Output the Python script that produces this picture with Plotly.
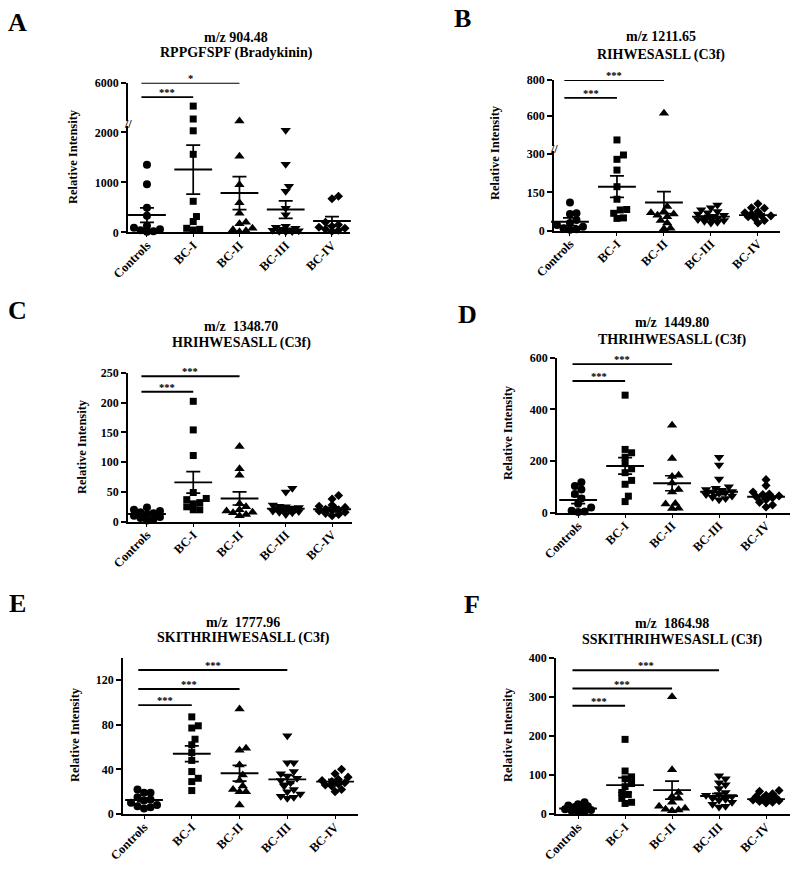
import numpy as np
import plotly.graph_objects as go

W, H = 800, 869
FONT = "Liberation Serif"

categories = ["Controls", "BC-I", "BC-II", "BC-III", "BC-IV"]

# ---------------- data ----------------
A_title = ["m/z 904.48", "RPPGFSPF (Bradykinin)"]
A_values = [
    [1350, 960, 490, 330, 130, 90, 60, 40, 20, 10],
    [3650, 2350, 2030, 1560, 620, 315, 215, 80, 60, 45],
    [2160, 1520, 950, 590, 380, 200, 170, 80, 50, 30, 10],
    [2040, 1360, 920, 820, 480, 350, 120, 100, 80, 60, 50, 40, 30, 20, 15, 10],
    [720, 670, 200, 150, 120, 100, 80, 60, 40, 20],
]
A_means = [345, 1255, 785, 455, 225]
A_sems = [145, 490, 330, 175, 90]
A_sig = [(1, 4550, "***"), (2, 6000, "*")]

B_title = ["m/z 1211.65", "RIHWESASLL (C3f)"]
B_values = [
    [110, 68, 65, 42, 30, 22, 15, 10, 6, 4],
    [464, 296, 279, 237, 172, 123, 83, 81, 68, 50, 48],
    [613, 95, 75, 70, 65, 60, 55, 40, 30, 10, 8],
    [100, 90, 82, 75, 70, 65, 60, 56, 52, 50, 47, 44, 40, 37, 33, 30],
    [105, 90, 88, 75, 70, 65, 60, 58, 55, 50, 40, 30],
]
B_means = [35, 172, 110, 55, 61]
B_sems = [15, 42, 43, 5, 5]
B_sig = [(1, 700, "***"), (2, 800, "***")]

C_title = ["m/z\u00a0 1348.70", "HRIHWESASLL (C3f)"]
C_values = [
    [24, 20, 18, 16, 14, 12, 10, 8, 6, 4, 2],
    [202, 154, 111, 49, 39, 37, 32, 30, 25, 20, 20],
    [126, 89, 78, 30, 25, 20, 18, 16, 15, 12, 10],
    [56, 50, 28, 26, 25, 24, 23, 22, 21, 20, 20, 19, 18, 17, 16, 15, 12],
    [44, 38, 28, 26, 24, 22, 21, 20, 19, 18, 16, 14, 12, 10],
]
C_means = [13, 66, 39, 22, 21]
C_sems = [2.5, 18, 11, 3, 3]
C_sig = [(1, 218, "***"), (2, 244, "***")]

D_title = ["m/z\u00a0 1449.80", "THRIHWESASLL (C3f)"]
D_values = [
    [118, 103, 90, 72, 55, 35, 20, 8, 5, 3],
    [455, 245, 232, 215, 190, 170, 155, 125, 110, 64, 43],
    [339, 210, 145, 140, 115, 90, 80, 36, 34, 17, 16],
    [215, 185, 130, 100, 95, 90, 85, 82, 80, 78, 75, 70, 65, 60, 55, 50],
    [128, 105, 80, 72, 70, 65, 62, 58, 50, 40, 30, 22],
]
D_means = [49, 181, 114, 81, 62]
D_sems = [14, 32, 29, 11, 9]
D_sig = [(1, 510, "***"), (2, 575, "***")]

E_title = ["m/z\u00a0 1777.96", "SKITHRIHWESASLL (C3f)"]
E_values = [
    [22, 19, 19, 15, 13, 12, 10, 8, 7, 6, 5],
    [87, 79, 77, 67, 62, 55, 48, 38, 32, 29, 21],
    [94, 59, 57, 44, 35, 30, 25, 22, 20, 20, 8],
    [70, 46, 46, 38, 36, 34, 32, 30, 28, 25, 22, 20, 18, 16, 15, 14],
    [40, 36, 33, 31, 30, 29, 28, 27, 26, 25, 22, 20],
]
E_means = [12.5, 54, 36.5, 31, 29]
E_sems = [1.5, 7, 7, 3.5, 2]
E_sig = [(1, 97.5, "***"), (2, 112, "***"), (3, 129, "***")]

F_title = ["m/z\u00a0 1864.98", "SSKITHRIHWESASLL (C3f)"]
F_values = [
    [30, 25, 22, 20, 18, 15, 12, 10, 8, 6, 5],
    [191, 110, 95, 90, 78, 70, 55, 50, 40, 30, 27],
    [300, 113, 55, 45, 40, 30, 20, 15, 12, 10, 8],
    [98, 90, 80, 75, 65, 55, 50, 48, 45, 40, 38, 35, 30, 25, 20, 18],
    [60, 58, 52, 48, 45, 42, 40, 38, 36, 34, 32, 30, 28],
]
F_means = [14, 74, 61, 46, 38]
F_sems = [2.5, 19, 23, 6, 3]
F_sig = [(1, 277, "***"), (2, 321, "***"), (3, 368, "***")]

# ---------------- layout geometry (pixels) ----------------
panels = [
    dict(letter="A", title=A_title, values=A_values, means=A_means, sems=A_sems, sig=A_sig,
         x0=128, x1=350, xr=[-0.41, 4.39],
         segs=[dict(bottom=232.3, top=126.3, rng=[0, 2120], ticks=[0, 1000, 2000]),
               dict(bottom=121.0, top=82.7, rng=[2150, 6000], ticks=[6000])],
         tx=236, ty=[37.7, 53.5], yt=(73, 157), lp=(17, 22)),
    dict(letter="B", title=B_title, values=B_values, means=B_means, sems=B_sems, sig=B_sig,
         x0=554, x1=780, xr=[-0.34, 4.47],
         segs=[dict(bottom=230.7, top=151.4, rng=[0, 310], ticks=[0, 150, 300]),
               dict(bottom=146.0, top=80.0, rng=[430, 800], ticks=[600, 800])],
         tx=661, ty=[36.7, 55], yt=(495, 153), lp=(462, 19)),
    dict(letter="C", title=C_title, values=C_values, means=C_means, sems=C_sems, sig=C_sig,
         x0=128, x1=352, xr=[-0.41, 4.43],
         segs=[dict(bottom=521.7, top=372.7, rng=[0, 250], ticks=[0, 50, 100, 150, 200, 250])],
         tx=241, ty=[326, 343], yt=(82, 447), lp=(17, 311)),
    dict(letter="D", title=D_title, values=D_values, means=D_means, sems=D_sems, sig=D_sig,
         x0=557, x1=790, xr=[-0.45, 4.51],
         segs=[dict(bottom=512.7, top=357.7, rng=[0, 600], ticks=[0, 200, 400, 600])],
         tx=672, ty=[322, 340], yt=(508, 433), lp=(467, 314)),
    dict(letter="E", title=E_title, values=E_values, means=E_means, sems=E_sems, sig=E_sig,
         x0=123, x1=358, xr=[-0.44, 4.48],
         segs=[dict(bottom=814, top=657.7, rng=[0, 140], ticks=[0, 40, 80, 120])],
         tx=243, ty=[622, 638], yt=(75, 735), lp=(17, 603)),
    dict(letter="F", title=F_title, values=F_values, means=F_means, sems=F_sems, sig=F_sig,
         x0=556, x1=790, xr=[-0.47, 4.51],
         segs=[dict(bottom=814, top=657.7, rng=[0, 400], ticks=[0, 100, 200, 300, 400])],
         tx=672, ty=[623, 640], yt=(508, 735), lp=(472, 604)),
]

symbols = ["circle", "square", "triangle-up", "triangle-down", "diamond"]
msizes = [8, 7, 9, 9, 7]


def swarm(vals, scale, px_cat, d=6.5, cap=15.0):
    """Column-scatter layout: spread points of similar value sideways (computed, not typed)."""
    vals = np.asarray(vals, float)
    offs = np.zeros(len(vals))
    placed = []
    cands = [0.0]
    j = 1
    while j * 0.5 * d <= cap:
        cands += [j * 0.5 * d, -j * 0.5 * d]
        j += 1
    for i in np.argsort(vals):
        y = vals[i] * scale
        best, best_d = 0.0, -1.0
        for c in cands:
            md = min([np.hypot(c - px, y - py) for px, py in placed] or [1e9])
            if md >= 0.9 * d:
                best = c
                break
            if md > best_d + 0.5:
                best, best_d = c, md
        placed.append((best, y))
        offs[i] = best / px_cat
    return offs


fig = go.Figure()
layout = {}
annotations = []
tickfont = dict(family=FONT, size=12, color="black", weight="bold")
xtickfont = dict(family=FONT, size=12.5, color="black", weight="bold")
extra_y = 7

for n, p in enumerate(panels, start=1):
    xname = "x" if n == 1 else f"x{n}"
    xkey = "xaxis" if n == 1 else f"xaxis{n}"
    yids = []
    for si, seg in enumerate(p["segs"]):
        if si == 0:
            yid = n
        else:
            yid = extra_y
            extra_y += 1
        yids.append(yid)
        ykey = "yaxis" if yid == 1 else f"yaxis{yid}"
        layout[ykey] = dict(
            domain=[1 - seg["bottom"] / H, 1 - seg["top"] / H], range=seg["rng"],
            anchor=xname, tickmode="array", tickvals=seg["ticks"],
            showline=True, linecolor="black", linewidth=1.7, ticks="outside",
            ticklen=5, tickwidth=1.7, tickcolor="black", showgrid=False,
            zeroline=False, tickfont=tickfont, fixedrange=True)
    layout[xkey] = dict(
        domain=[p["x0"] / W, p["x1"] / W], range=p["xr"], anchor="y" if n == 1 else f"y{n}",
        tickmode="array", tickvals=list(range(len(categories))), ticktext=categories,
        tickangle=-45, showline=True, linecolor="black", linewidth=1.7, ticks="outside",
        ticklen=3, tickwidth=1.4, tickcolor="black", showgrid=False, zeroline=False,
        ticklabelstandoff=-4, tickfont=xtickfont, fixedrange=True)

    px_cat = (p["x1"] - p["x0"]) / (p["xr"][1] - p["xr"][0])

    def yname(yid):
        return "y" if yid == 1 else f"y{yid}"

    # data points
    lower_top = p["segs"][0]["rng"][1]
    for gi, vals in enumerate(p["values"]):
        vals = np.asarray(vals, float)
        for si, seg in enumerate(p["segs"]):
            mask = vals <= lower_top if si == 0 else vals > lower_top
            if not mask.any():
                continue
            scale = (seg["bottom"] - seg["top"]) / (seg["rng"][1] - seg["rng"][0])
            offs = swarm(vals[mask], scale, px_cat)
            fig.add_trace(go.Scatter(
                x=gi + offs, y=vals[mask], mode="markers", cliponaxis=False,
                xaxis=xname, yaxis=yname(yids[si]), showlegend=False, hoverinfo="skip",
                marker=dict(symbol=symbols[gi], size=msizes[gi], color="black",
                            line=dict(width=0))))

    # mean +/- SEM
    fig.add_trace(go.Scatter(
        x=list(range(len(categories))), y=p["means"], mode="markers", cliponaxis=False,
        xaxis=xname, yaxis=yname(yids[0]), showlegend=False, hoverinfo="skip",
        marker=dict(symbol="line-ew", size=27, color="black",
                    line=dict(width=1.9, color="black")),
        error_y=dict(type="data", array=p["sems"], visible=True, color="black",
                     thickness=1.7, width=7)))

    # significance bars
    for target, yv, lab in p["sig"]:
        yid = yids[0] if yv <= lower_top else yids[1]
        fig.add_trace(go.Scatter(
            x=[-0.12, target], y=[yv, yv], mode="lines", cliponaxis=False,
            xaxis=xname, yaxis=yname(yid), showlegend=False, hoverinfo="skip",
            line=dict(color="black", width=1.9)))
        annotations.append(dict(
            x=(target - 0.12) / 2, y=yv, xref=xname, yref=yname(yid), text=lab,
            showarrow=False, yanchor="bottom", xanchor="center", yshift=-3,
            font=dict(family=FONT, size=10.5, color="black", weight="bold")))

    # axis break marks
    if len(p["segs"]) > 1:
        gap_mid = (p["segs"][0]["top"] + p["segs"][1]["bottom"]) / 2
        annotations.append(dict(
            x=p["x0"] / W, y=1 - gap_mid / H, xref="paper", yref="paper", text="//",
            showarrow=False, xanchor="center", yanchor="middle",
            font=dict(family=FONT, size=12, color="black", weight="bold")))

    # titles
    for line_txt, ty in zip(p["title"], p["ty"]):
        annotations.append(dict(
            x=p["tx"] / W, y=1 - ty / H, xref="paper", yref="paper", text=line_txt,
            showarrow=False, xanchor="center", yanchor="middle",
            font=dict(family=FONT, size=14, color="black", weight="bold")))
    # y axis title
    annotations.append(dict(
        x=p["yt"][0] / W, y=1 - p["yt"][1] / H, xref="paper", yref="paper",
        text="Relative Intensity", textangle=-90, showarrow=False,
        xanchor="center", yanchor="middle",
        font=dict(family=FONT, size=12.5, color="black", weight="bold")))
    # panel letter
    annotations.append(dict(
        x=p["lp"][0] / W, y=1 - p["lp"][1] / H, xref="paper", yref="paper",
        text=p["letter"], showarrow=False, xanchor="center", yanchor="middle",
        font=dict(family=FONT, size=26, color="black", weight="bold")))

fig.update_layout(
    template="none", width=W, height=H, margin=dict(l=0, r=0, t=0, b=0),
    paper_bgcolor="white", plot_bgcolor="rgba(0,0,0,0)", showlegend=False,
    annotations=annotations, **layout)

fig.write_html("out.html", config={"displayModeBar": False},
               post_script="document.body.style.margin='0';document.body.style.overflow='hidden';")
